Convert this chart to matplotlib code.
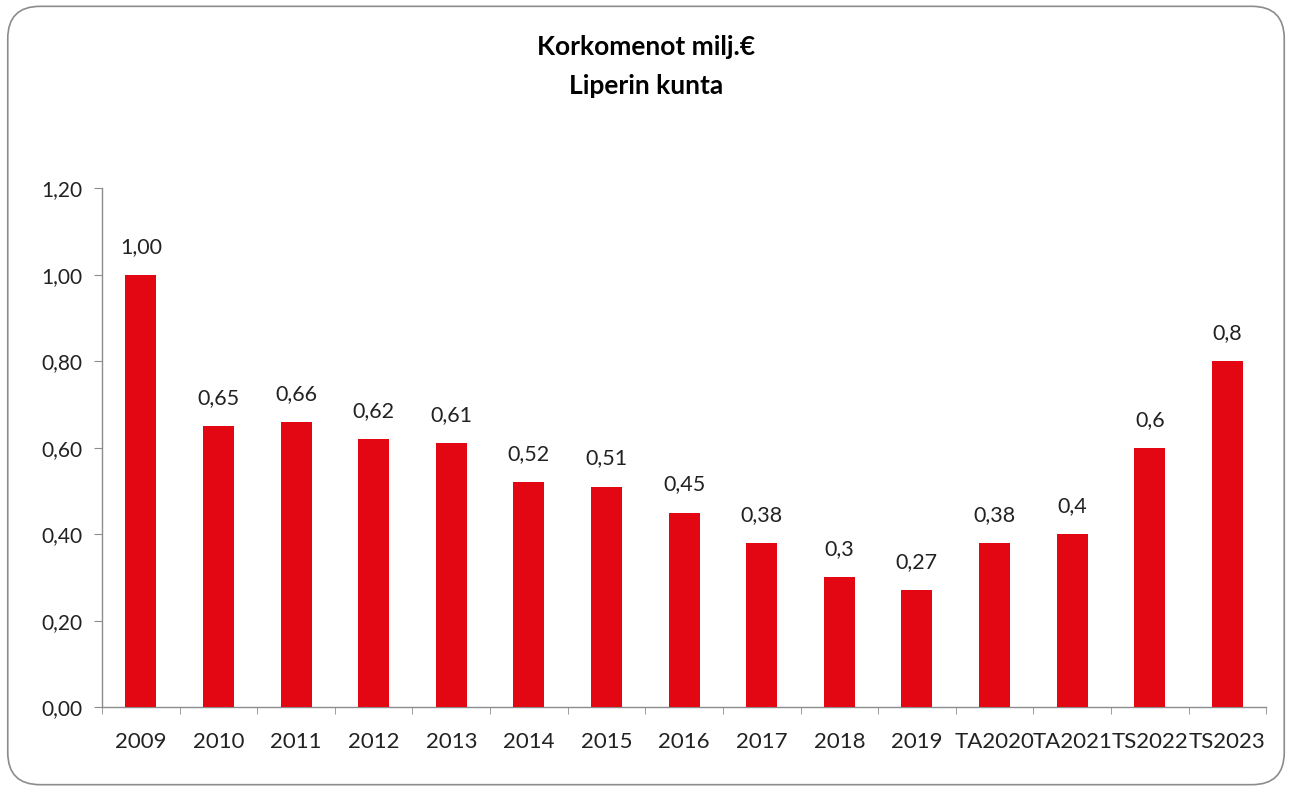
import matplotlib
matplotlib.use("Agg")
import matplotlib.pyplot as plt
from matplotlib.patches import FancyBboxPatch
import numpy as np

categories = ["2009", "2010", "2011", "2012", "2013", "2014", "2015", "2016",
              "2017", "2018", "2019", "TA2020", "TA2021", "TS2022", "TS2023"]
values = [1.00, 0.65, 0.66, 0.62, 0.61, 0.52, 0.51, 0.45, 0.38, 0.30, 0.27,
          0.38, 0.40, 0.60, 0.80]
value_labels = ["1,00", "0,65", "0,66", "0,62", "0,61", "0,52", "0,51", "0,45",
                "0,38", "0,3", "0,27", "0,38", "0,4", "0,6", "0,8"]
yticks = [0.0, 0.2, 0.4, 0.6, 0.8, 1.0, 1.2]
ytick_labels = ["0,00", "0,20", "0,40", "0,60", "0,80", "1,00", "1,20"]

plt.rcParams['font.family'] = ['Lato', 'DejaVu Sans']

fig = plt.figure(figsize=(12.92, 7.91), dpi=100)
fig.patch.set_facecolor("white")
border = FancyBboxPatch((0.006, 0.008), 0.988, 0.984,
                        boxstyle="round,pad=0,rounding_size=0.025",
                        transform=fig.transFigure, facecolor="none",
                        edgecolor="#8c8c8c", linewidth=1.2,
                        mutation_aspect=1292/791, zorder=-1)
fig.patches.append(border)

ax = fig.add_axes([0.079, 0.106, 0.901, 0.656])
ax.patch.set_alpha(0)
x = np.arange(len(categories))
ax.bar(x, values, width=0.4, color="#E30613", zorder=3)

for xi, v, lab in zip(x, values, value_labels):
    ax.annotate(lab, (xi, v), xytext=(0, 13), textcoords="offset points",
                ha="center", va="bottom", fontsize=15.5, color="#222222")

ax.set_xlim(-0.5, len(categories) - 0.5)
ax.set_ylim(0, 1.2)
ax.set_yticks(yticks)
ax.set_yticklabels(ytick_labels, fontsize=15, color="#222222")
ax.set_xticks(x)
ax.set_xticklabels(categories, fontsize=16, color="#222222")
ax.tick_params(axis="x", which="major", length=0, pad=18)
ax.set_xticks(np.arange(-0.5, len(categories), 1.0), minor=True)
ax.tick_params(axis="x", which="minor", length=5, color="#8c8c8c", direction="out")
ax.tick_params(axis="y", length=6, color="#8c8c8c", direction="out", pad=8)

for s in ["top", "right"]:
    ax.spines[s].set_visible(False)
for s in ["left", "bottom"]:
    ax.spines[s].set_color("#8c8c8c")
    ax.spines[s].set_linewidth(1.0)

fig.text(0.5, 0.941, "Korkomenot milj.€", ha="center", va="center",
         fontsize=19, fontweight="bold", color="#000000")
fig.text(0.5, 0.891, "Liperin kunta", ha="center", va="center",
         fontsize=19, fontweight="bold", color="#000000")

fig.savefig("out.png", dpi=100)
